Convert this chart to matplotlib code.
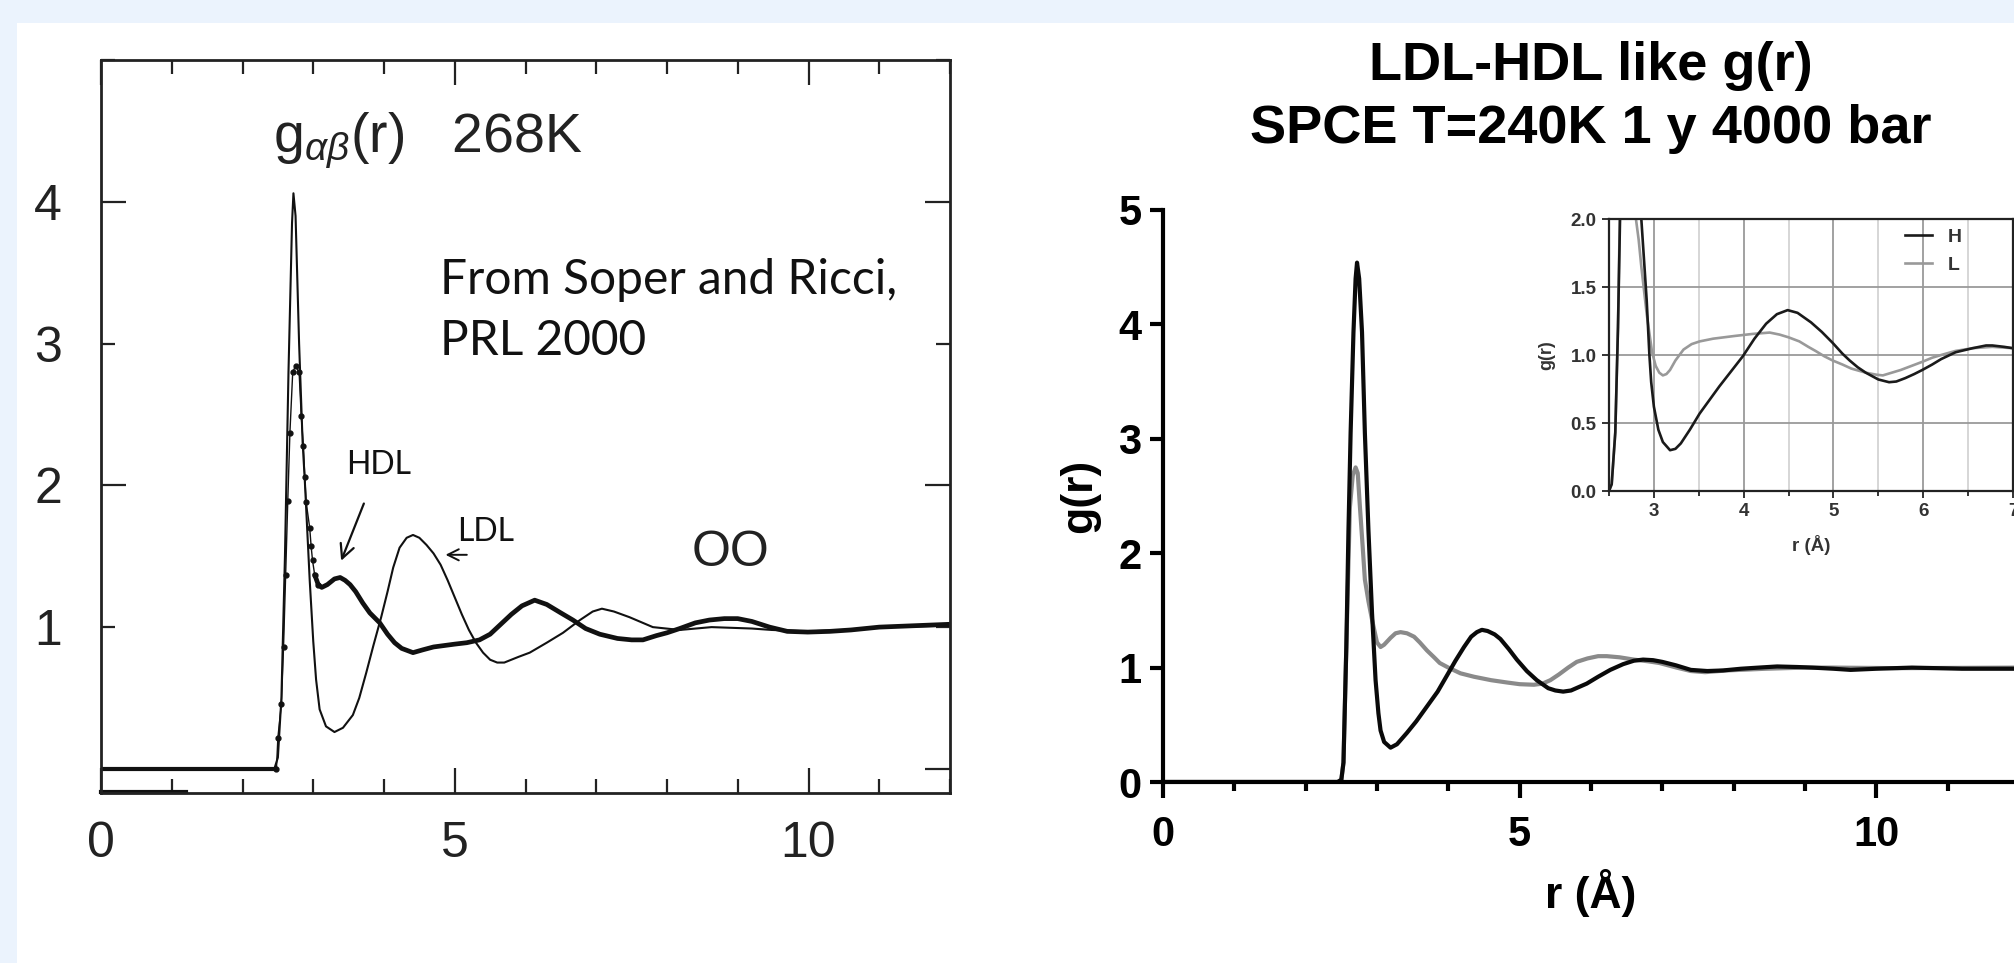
import matplotlib
matplotlib.use('Agg')
import matplotlib.pyplot as plt
from matplotlib.patches import Rectangle
from matplotlib.lines import Line2D
from matplotlib.ticker import MultipleLocator, FormatStrFormatter

plt.rcParams['font.family'] = ['Liberation Sans', 'DejaVu Sans']
plt.rcParams['mathtext.fontset'] = 'custom'
plt.rcParams['mathtext.rm'] = 'Liberation Sans'
plt.rcParams['mathtext.it'] = 'Liberation Sans:italic'
plt.rcParams['mathtext.bf'] = 'Liberation Sans:bold'

# --- left panel: Soper & Ricci, 268 K ---
ldl_r = [0.0, 2.45, 2.50, 2.55, 2.60, 2.65, 2.70, 2.72, 2.75, 2.80, 2.85, 2.88, 2.95, 3.00,
         3.04, 3.09, 3.18, 3.30, 3.42, 3.56, 3.65, 3.75, 3.85, 3.96, 4.05, 4.13, 4.22, 4.32,
         4.41, 4.50, 4.60, 4.70, 4.80, 4.90, 5.00, 5.10, 5.20, 5.30, 5.40, 5.50, 5.60, 5.70,
         5.80, 5.90, 6.06, 6.30, 6.53, 6.77, 6.95, 7.08, 7.25, 7.47, 7.80, 8.18, 8.63, 9.20,
         9.48, 9.99, 10.5, 11.0, 12.0]
ldl_g = [0.0, 0.0, 0.08, 0.5, 1.5, 2.8, 3.85, 4.06, 3.9, 3.0, 2.3, 2.04, 1.33, 0.90,
         0.63, 0.42, 0.30, 0.26, 0.29, 0.38, 0.50, 0.68, 0.87, 1.07, 1.25, 1.42, 1.56, 1.63,
         1.65, 1.63, 1.58, 1.52, 1.44, 1.33, 1.21, 1.09, 0.98, 0.89, 0.82, 0.77, 0.75, 0.75,
         0.77, 0.79, 0.82, 0.89, 0.96, 1.05, 1.11, 1.13, 1.11, 1.07, 1.00, 0.98, 1.00, 0.99,
         0.98, 0.97, 0.98, 1.00, 1.01]

hdl_peak_r = [0.0, 2.48, 2.50, 2.55, 2.58, 2.61, 2.64, 2.67, 2.71, 2.75, 2.80, 2.83, 2.86,
              2.88, 2.90, 2.95, 2.97, 2.99, 3.02, 3.07]
hdl_peak_g = [0.0, 0.0, 0.22, 0.46, 0.86, 1.37, 1.89, 2.37, 2.80, 2.84, 2.80, 2.49, 2.28,
              2.06, 1.88, 1.70, 1.57, 1.47, 1.37, 1.30]
hdl_r = [3.02, 3.07, 3.12, 3.20, 3.30, 3.38, 3.45, 3.52, 3.60, 3.70, 3.80, 3.94, 4.05, 4.15,
         4.25, 4.41, 4.55, 4.70, 4.85, 5.00, 5.17, 5.35, 5.50, 5.65, 5.80, 5.95, 6.13, 6.30,
         6.50, 6.67, 6.85, 7.05, 7.30, 7.50, 7.66, 7.85, 8.00, 8.18, 8.40, 8.60, 8.81, 9.00,
         9.20, 9.45, 9.70, 9.99, 10.3, 10.6, 11.0, 11.5, 12.0]
hdl_g = [1.37, 1.30, 1.28, 1.30, 1.34, 1.35, 1.33, 1.30, 1.25, 1.17, 1.10, 1.03, 0.95, 0.89,
         0.85, 0.82, 0.84, 0.86, 0.87, 0.88, 0.89, 0.91, 0.95, 1.02, 1.09, 1.15, 1.19, 1.16,
         1.10, 1.05, 0.99, 0.95, 0.92, 0.91, 0.91, 0.94, 0.96, 0.99, 1.03, 1.05, 1.06, 1.06,
         1.04, 1.00, 0.97, 0.965, 0.97, 0.98, 1.00, 1.01, 1.02]

# --- right panel: SPCE 240 K ---
h_r = [0.0, 2.45, 2.50, 2.53, 2.57, 2.60, 2.63, 2.67, 2.70, 2.72, 2.75, 2.79, 2.83, 2.88,
       2.93, 2.98, 3.02, 3.05, 3.10, 3.19, 3.28, 3.42, 3.55, 3.70, 3.85, 3.98, 4.10, 4.22,
       4.32, 4.40, 4.47, 4.55, 4.65, 4.73, 4.85, 4.96, 5.10, 5.24, 5.40, 5.50, 5.61, 5.72,
       5.83, 5.94, 6.10, 6.27, 6.45, 6.60, 6.73, 6.87, 7.00, 7.19, 7.40, 7.63, 7.85, 8.10,
       8.35, 8.61, 8.90, 9.10, 9.40, 9.64, 10.0, 10.5, 11.2, 12.0]
h_g = [0.0, 0.0, 0.02, 0.17, 1.18, 2.20, 3.05, 3.93, 4.40, 4.54, 4.40, 3.93, 3.05, 2.20,
       1.48, 0.89, 0.60, 0.45, 0.35, 0.30, 0.33, 0.43, 0.53, 0.66, 0.79, 0.93, 1.06, 1.18,
       1.27, 1.31, 1.33, 1.32, 1.29, 1.25, 1.16, 1.07, 0.97, 0.89, 0.82, 0.80, 0.79, 0.80,
       0.83, 0.86, 0.92, 0.98, 1.03, 1.06, 1.07, 1.065, 1.05, 1.02, 0.98, 0.97, 0.975, 0.99,
       1.00, 1.01, 1.005, 1.00, 0.99, 0.98, 0.99, 1.00, 0.99, 0.99]
l_r = [0.0, 2.45, 2.50, 2.53, 2.57, 2.62, 2.66, 2.70, 2.73, 2.76, 2.80, 2.83, 2.88, 2.93,
       3.00, 3.05, 3.10, 3.19, 3.26, 3.33, 3.42, 3.52, 3.60, 3.70, 3.80, 3.88, 4.00, 4.17,
       4.36, 4.60, 4.82, 5.00, 5.20, 5.32, 5.43, 5.55, 5.68, 5.80, 5.95, 6.10, 6.22, 6.40,
       6.60, 6.80, 6.96, 7.20, 7.40, 7.60, 7.90, 8.45, 9.00, 9.40, 10.3, 12.0]
l_g = [0.0, 0.0, 0.02, 0.17, 1.18, 2.40, 2.68, 2.75, 2.70, 2.41, 2.05, 1.77, 1.58, 1.42,
       1.22, 1.18, 1.20, 1.26, 1.30, 1.31, 1.30, 1.27, 1.22, 1.15, 1.09, 1.04, 1.00, 0.95,
       0.92, 0.89, 0.87, 0.855, 0.85, 0.86, 0.89, 0.94, 1.00, 1.05, 1.08, 1.10, 1.10, 1.09,
       1.07, 1.055, 1.04, 1.00, 0.97, 0.96, 0.975, 0.99, 1.00, 1.00, 0.995, 1.00]

# --- inset ---
hin_r = [2.50, 2.53, 2.57, 2.60, 2.64, 2.72, 2.80, 2.86, 2.89, 2.92, 2.95, 2.97, 3.00, 3.05,
         3.10, 3.18, 3.24, 3.30, 3.40, 3.51, 3.62, 3.73, 3.86, 3.99, 4.12, 4.25, 4.37, 4.49,
         4.60, 4.75, 4.87, 4.99, 5.10, 5.18, 5.27, 5.36, 5.50, 5.62, 5.70, 5.80, 5.90, 5.99,
         6.10, 6.20, 6.36, 6.55, 6.70, 6.77, 6.90, 7.00]
hin_g = [0.0, 0.05, 0.43, 1.20, 2.60, 4.50, 3.00, 2.00, 1.70, 1.40, 1.00, 0.80, 0.62, 0.45,
         0.36, 0.30, 0.31, 0.35, 0.45, 0.57, 0.67, 0.77, 0.88, 0.99, 1.12, 1.23, 1.30, 1.33,
         1.31, 1.24, 1.17, 1.09, 1.01, 0.96, 0.91, 0.87, 0.82, 0.80, 0.805, 0.83, 0.86, 0.89,
         0.93, 0.97, 1.02, 1.05, 1.07, 1.07, 1.06, 1.05]
lin_r = [2.50, 2.53, 2.57, 2.60, 2.62, 2.70, 2.80, 2.83, 2.86, 2.92, 2.98, 3.02, 3.06, 3.10,
         3.14, 3.18, 3.24, 3.33, 3.42, 3.51, 3.66, 3.90, 4.10, 4.29, 4.40, 4.50, 4.62, 4.72,
         4.80, 4.90, 4.99, 5.10, 5.20, 5.36, 5.48, 5.55, 5.65, 5.75, 5.87, 5.99, 6.10, 6.20,
         6.36, 6.55, 6.77, 7.00]
lin_g = [0.0, 0.05, 0.43, 1.20, 2.00, 2.75, 2.00, 1.85, 1.65, 1.30, 1.02, 0.92, 0.87, 0.85,
         0.86, 0.89, 0.96, 1.04, 1.08, 1.10, 1.12, 1.14, 1.155, 1.165, 1.15, 1.13, 1.10, 1.06,
         1.03, 0.99, 0.96, 0.93, 0.90, 0.87, 0.855, 0.85, 0.87, 0.89, 0.92, 0.95, 0.98, 1.00,
         1.03, 1.05, 1.06, 1.05]

W, H = 2014, 963
fig = plt.figure(figsize=(W / 100, H / 100), dpi=100)
fig.patch.set_facecolor('#ebf3fd')
fig.patches.append(Rectangle((17 / W, 0), 1, (H - 23) / H, transform=fig.transFigure,
                             facecolor='white', edgecolor='none', zorder=-10))


def fpos(x0, x1, ytop, ybot):
    return [x0 / W, (H - ybot) / H, (x1 - x0) / W, (ybot - ytop) / H]


# Left panel
ax1 = fig.add_axes(fpos(101, 950, 60, 793))
ax1.plot(ldl_r, ldl_g, color='#111111', lw=1.5)
ax1.plot(hdl_peak_r[:2], hdl_peak_g[:2], color='#111111', lw=3.0)
ax1.plot(hdl_peak_r[1:], hdl_peak_g[1:], color='#111111', lw=1.0, marker='o', ms=3.5)
ax1.plot(hdl_r, hdl_g, color='#111111', lw=3.4, solid_capstyle='round')
ax1.plot([0, 1.2], [-0.16, -0.16], color='#111111', lw=3, clip_on=False)
ax1.set_xlim(0, 12)
ax1.set_ylim(-0.17, 5)
ax1.xaxis.set_major_locator(MultipleLocator(5))
ax1.xaxis.set_minor_locator(MultipleLocator(1))
ax1.set_yticks([0, 2, 4], labels=['', '2', '4'])
ax1.set_yticks([1, 3, 5], labels=['1', '3', ''], minor=True)
ax1.tick_params(which='both', direction='in', top=True, right=True, width=1.6,
                labelsize=36, colors='#222222')
ax1.tick_params(axis='x', which='both', pad=20)
ax1.tick_params(axis='y', which='both', pad=28)
ax1.tick_params(which='major', length=18)
ax1.tick_params(which='minor', length=10)
for s in ax1.spines.values():
    s.set_linewidth(2.0)
    s.set_color('#222222')

ax1.text(2.43, 4.35, r'g$_{\alpha\beta}$(r)   268K', fontsize=40, color='#222222',
         ha='left', va='baseline')
ax1.text(4.79, 3.35, 'From Soper and Ricci,', family='Lato', fontsize=34.5,
         color='#111111', ha='left', va='baseline')
ax1.text(4.79, 2.92, 'PRL 2000', family='Lato', fontsize=34.5,
         color='#111111', ha='left', va='baseline')
ax1.text(3.47, 2.08, 'HDL', family='Lato', fontsize=23, color='#111111', va='baseline')
ax1.text(5.04, 1.61, 'LDL', family='Lato', fontsize=23, color='#111111', va='baseline')
ax1.text(8.9, 1.52, 'OO', fontsize=36, color='#222222', ha='center', va='center')
ax1.annotate('', xy=(3.38, 1.45), xytext=(3.73, 1.89),
             arrowprops=dict(arrowstyle='->', lw=1.6, color='#111111', mutation_scale=25))
ax1.annotate('', xy=(4.83, 1.51), xytext=(5.21, 1.51),
             arrowprops=dict(arrowstyle='->', lw=1.4, color='#111111', mutation_scale=20))

# Right panel
ax2 = fig.add_axes(fpos(1163, 2019, 210, 782))
ax2.plot(l_r, l_g, color='#8a8a8a', lw=3.0)
ax2.plot(h_r, h_g, color='#0a0a0a', lw=3.0)
ax2.set_xlim(0, 12)
ax2.set_ylim(0, 5)
ax2.spines['top'].set_visible(False)
ax2.spines['right'].set_visible(False)
for s in ('left', 'bottom'):
    ax2.spines[s].set_linewidth(3.0)
ax2.xaxis.set_major_locator(MultipleLocator(5))
ax2.xaxis.set_minor_locator(MultipleLocator(1))
ax2.yaxis.set_major_locator(MultipleLocator(1))
ax2.tick_params(which='both', direction='out', width=3.0, labelsize=30)
ax2.tick_params(axis='x', which='major', length=11.5, pad=12)
ax2.tick_params(axis='x', which='minor', length=6.5)
ax2.tick_params(axis='y', which='major', length=9.5, pad=6)
for lab in ax2.get_xticklabels() + ax2.get_yticklabels():
    lab.set_fontweight('bold')
ax2.text(0.5, -0.194, 'r (Å)', transform=ax2.transAxes, fontsize=32, fontweight='bold',
         ha='center', va='center')
ax2.text(-0.097, 0.5, 'g(r)', transform=ax2.transAxes, fontsize=32, fontweight='bold',
         ha='center', va='center', rotation=90)

fig.text(1591 / W, (H - 80) / H, 'LDL-HDL like g(r)', fontsize=39, fontweight='bold',
         ha='center', va='baseline')
fig.text(1591 / W, (H - 143) / H, 'SPCE T=240K 1 y 4000 bar', fontsize=39,
         fontweight='bold', ha='center', va='baseline')

# Inset
ax3 = fig.add_axes(fpos(1609, 2013, 219, 491))
ax3.set_zorder(5)
ax3.set_facecolor('white')
ax3.set_xlim(2.5, 7.0)
ax3.set_ylim(0, 2.0)
ax3.xaxis.set_major_locator(MultipleLocator(1))
ax3.xaxis.set_minor_locator(MultipleLocator(0.5))
ax3.yaxis.set_major_locator(MultipleLocator(0.5))
ax3.yaxis.set_major_formatter(FormatStrFormatter('%.1f'))
ax3.grid(True, which='major', color='#9a9a9a', lw=1.3)
ax3.grid(True, which='minor', axis='x', color='#cccccc', lw=1.1)
ax3.set_axisbelow(True)
ax3.plot(lin_r, lin_g, color='#999999', lw=1.9)
ax3.plot(hin_r, hin_g, color='#1a1a1a', lw=1.9)
for s in ax3.spines.values():
    s.set_linewidth(1.6)
    s.set_color('#222222')
ax3.tick_params(which='both', direction='out', width=1.4, labelsize=13.5, colors='#333333')
ax3.tick_params(which='major', length=5, pad=4)
ax3.tick_params(which='minor', length=3.5)
for lab in ax3.get_xticklabels() + ax3.get_yticklabels():
    lab.set_fontweight('bold')
ax3.text(0.5, -0.2, 'r (Å)', transform=ax3.transAxes, fontsize=13.5, fontweight='bold',
         color='#333333', ha='center', va='center')
ax3.text(-0.155, 0.5, 'g(r)', transform=ax3.transAxes, fontsize=13, fontweight='bold',
         color='#333333', ha='center', va='center', rotation=90)
handles = [Line2D([], [], color='#1a1a1a', lw=1.9), Line2D([], [], color='#999999', lw=1.9)]
leg = ax3.legend(handles, ['H', 'L'], loc='upper left', bbox_to_anchor=(0.733, 0.967),
                 frameon=False, fontsize=14, handlelength=1.4, handletextpad=0.8,
                 labelspacing=0.55, borderpad=0, borderaxespad=0)
for t in leg.get_texts():
    t.set_color('#333333')
    t.set_fontweight('bold')

fig.savefig('out.png', dpi=100, facecolor=fig.get_facecolor())
